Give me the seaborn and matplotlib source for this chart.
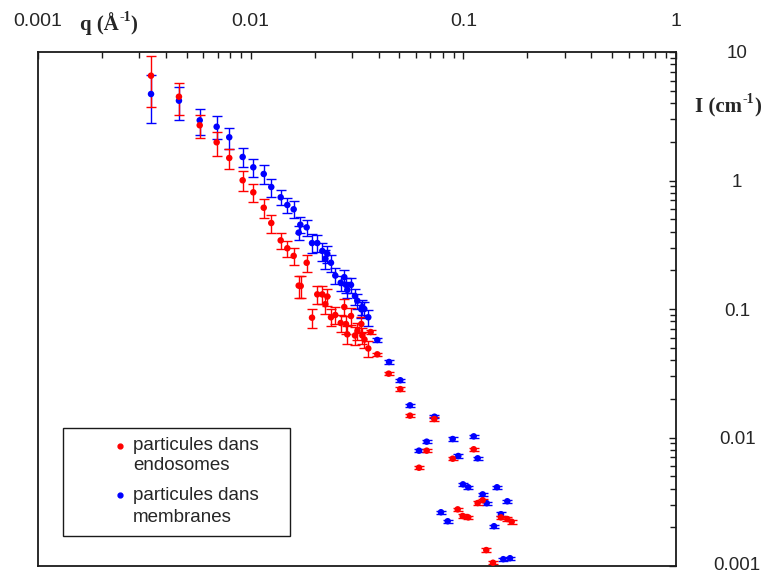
import numpy as np
import pandas as pd
import seaborn as sns
import matplotlib.pyplot as plt
from matplotlib.patches import Rectangle
from matplotlib.ticker import LogLocator, NullFormatter
from matplotlib.transforms import ScaledTranslation

sns.set_theme(style="white")
plt.rcParams["font.family"] = ["Liberation Sans", "DejaVu Sans"]

# particules dans endosomes (rouge)
q_endo = [0.00340, 0.00460, 0.00576, 0.00692, 0.00793, 0.00917, 0.01029, 0.01152, 0.0125, 0.01384,
          0.01487, 0.01593, 0.01682, 0.01719, 0.01834, 0.01943, 0.02057, 0.02172, 0.02244, 0.02293,
          0.02386, 0.0250, 0.02651, 0.02756, 0.02807, 0.02847, 0.02963, 0.03094, 0.03179, 0.03313,
          0.03349, 0.03429, 0.03573, 0.03667, 0.03939, 0.04457, 0.05053, 0.05612, 0.06188, 0.06725,
          0.07301, 0.08913, 0.09408, 0.0993, 0.1055, 0.1119, 0.1168, 0.1233, 0.1282, 0.1379,
          0.1503, 0.1610, 0.1688]
i_endo = [6.54, 4.49, 2.69, 1.983, 1.497, 1.004, 0.809, 0.614, 0.467, 0.342,
          0.297, 0.259, 0.152, 0.151, 0.229, 0.0856, 0.130, 0.130, 0.109, 0.125,
          0.0862, 0.0898, 0.0778, 0.1036, 0.0764, 0.0635, 0.0882, 0.0622, 0.0674, 0.0764,
          0.0622, 0.0579, 0.0493, 0.0662, 0.0444, 0.0314, 0.0238, 0.0148, 0.00582, 0.0079,
          0.01393, 0.00684, 0.00276, 0.00245, 0.00239, 0.0081, 0.00309, 0.00325, 0.00133, 0.00106,
          0.00239, 0.00232, 0.00221]
err_endo = [2.8, 1.28, 0.56, 0.42, 0.27, 0.18, 0.125, 0.10, 0.074, 0.05,
            0.043, 0.039, 0.03, 0.03, 0.036, 0.015, 0.02, 0.02, 0.017, 0.019,
            0.013, 0.014, 0.012, 0.015, 0.012, 0.01, 0.013, 0.01, 0.01, 0.011,
            0.009, 0.008, 0.007, 0.002, 0.0013, 0.0009, 0.0007, 0.0004, 0.00017, 0.00024,
            0.0004, 0.0002, 0.00008, 0.00007, 0.00007, 0.00024, 0.00009, 0.0001, 0.00004, 0.00003,
            0.00007, 0.00007, 0.00007]

# particules dans membranes (bleu)
q_memb = [0.00340, 0.00460, 0.00576, 0.00692, 0.00793, 0.00917, 0.01029, 0.01152, 0.0125, 0.01384,
          0.01487, 0.01593, 0.01682, 0.01712, 0.01834, 0.01943, 0.02057, 0.02172, 0.02244, 0.02293,
          0.02386, 0.0250, 0.02651, 0.02756, 0.02807, 0.02847, 0.02963, 0.03094, 0.03172, 0.03313,
          0.03349, 0.03422, 0.03573, 0.03939, 0.04473, 0.05053, 0.05612, 0.06188, 0.06725, 0.07316,
          0.07852, 0.08444, 0.08913, 0.09469, 0.09963, 0.1055, 0.1119, 0.1168, 0.1233, 0.1288,
          0.1394, 0.1440, 0.1503, 0.1541, 0.1610, 0.1658]
i_memb = [4.71, 4.18, 2.94, 2.62, 2.17, 1.524, 1.267, 1.124, 0.890, 0.740,
          0.645, 0.597, 0.393, 0.453, 0.432, 0.326, 0.326, 0.283, 0.246, 0.269,
          0.229, 0.182, 0.160, 0.177, 0.154, 0.141, 0.154, 0.126, 0.116, 0.0995,
          0.1036, 0.100, 0.0862, 0.0574, 0.0387, 0.0279, 0.0178, 0.0079, 0.00928, 0.01452,
          0.00262, 0.00223, 0.00973, 0.00718, 0.00432, 0.0041, 0.01021, 0.00689, 0.00361, 0.00308,
          0.00204, 0.0041, 0.00253, 0.00113, 0.00319, 0.00115]
err_memb = [1.9, 1.2, 0.66, 0.53, 0.40, 0.26, 0.20, 0.19, 0.14, 0.10,
            0.09, 0.09, 0.05, 0.065, 0.065, 0.054, 0.05, 0.045, 0.04, 0.04,
            0.035, 0.025, 0.022, 0.024, 0.02, 0.02, 0.02, 0.018, 0.016, 0.014,
            0.014, 0.013, 0.012, 0.0017, 0.0012, 0.0008, 0.0005, 0.00024, 0.00028, 0.00044,
            0.00008, 0.00007, 0.00029, 0.00022, 0.00013, 0.00012, 0.00031, 0.00021, 0.00011, 0.00009,
            0.00006, 0.00012, 0.00008, 0.00003, 0.0001, 0.00003]

labels = ["particules dans\nendosomes", "particules dans\nmembranes"]
colors = ["#FF0000", "#0000FF"]

df = pd.concat([
    pd.DataFrame({"q": q_memb, "I": i_memb, "err": err_memb, "serie": labels[1]}),
    pd.DataFrame({"q": q_endo, "I": i_endo, "err": err_endo, "serie": labels[0]}),
], ignore_index=True)

W, H = 771, 574
fig = plt.figure(figsize=(W/100, H/100), dpi=100, facecolor="w")
ax = fig.add_axes([38/W, 8/H, 638/W, 514/H])

for lab, col in zip([labels[1], labels[0]], [colors[1], colors[0]]):
    d = df[df["serie"] == lab]
    ax.errorbar(d["q"], d["I"], yerr=d["err"], fmt="none", ecolor=col,
                elinewidth=1.0, capsize=3.6, capthick=1.0, zorder=2)

sns.scatterplot(data=df, x="q", y="I", hue="serie",
                palette={labels[0]: colors[0], labels[1]: colors[1]},
                s=22, linewidth=0, legend=False, ax=ax, zorder=3)

ax.set_xscale("log")
ax.set_yscale("log")
ax.set_xlim(0.001, 1)
ax.set_ylim(0.001, 10)
ax.set_xlabel("")
ax.set_ylabel("")

ax.set_xticks([0.001, 0.01, 0.1, 1], labels=["0.001", "0.01", "0.1", "1"])
ax.set_yticks([0.001, 0.01, 0.1, 1, 10], labels=["0.001", "0.01", "0.1", "1", "10"], ha="center")
ax.xaxis.set_minor_locator(LogLocator(base=10, subs=np.arange(2, 10)))
ax.yaxis.set_minor_locator(LogLocator(base=10, subs=np.arange(2, 10)))
ax.xaxis.set_minor_formatter(NullFormatter())
ax.yaxis.set_minor_formatter(NullFormatter())

ax.tick_params(axis="x", which="both", direction="in", top=True, bottom=False,
               labeltop=True, labelbottom=False, color="k", width=1)
ax.tick_params(axis="y", which="both", direction="in", right=True, left=False,
               labelright=True, labelleft=False, color="k", width=1)
ax.tick_params(axis="x", which="major", length=5, pad=16, labelsize=14)
ax.tick_params(axis="y", which="major", length=5, pad=44, labelsize=13.5)
ax.tick_params(which="minor", length=4)

# remonter un peu le "0.001" du bas pour qu'il reste dans l'image
lab_bas = ax.yaxis.get_major_ticks()[0].label2
lab_bas.set_transform(lab_bas.get_transform() + ScaledTranslation(0, 3/100, fig.dpi_scale_trans))

for s in ax.spines.values():
    s.set_color("k")
    s.set_linewidth(1.3)


def titre(x, y, base, sup):
    # texte gras serif avec exposant "-1" plus petit, puis parenthèse fermante
    kw = dict(family="Liberation Serif", fontweight="bold", ha="left", va="baseline")
    t1 = fig.text(x/W, 1 - y/H, base, fontsize=15, **kw)
    fig.canvas.draw()
    r = fig.canvas.get_renderer()
    x1 = t1.get_window_extent(r).x1
    t2 = fig.text(x1/W + 0.5/W, 1 - (y - 9)/H, sup, fontsize=10, **kw)
    x2 = t2.get_window_extent(r).x1
    fig.text(x2/W, 1 - y/H, ")", fontsize=15, **kw)


titre(80, 30, "q (Å", "-1")
titre(695, 112, "I (cm", "-1")

# légende encadrée
ax.add_patch(Rectangle((0.0392, 0.0584), 0.3558, 0.2101, transform=ax.transAxes,
                       fill=False, edgecolor="k", linewidth=1.0, zorder=5))
leg_y = [(0.2335, 0.1946), (0.1381, 0.0953)]
for lab, col, (y1, y2) in zip(labels, colors, leg_y):
    ax.plot([0.1285], [y1], "o", color=col, markersize=3.5, transform=ax.transAxes, zorder=6)
    l1, l2 = lab.split("\n")
    ax.text(0.1489, y1, l1, transform=ax.transAxes, fontsize=13.5, ha="left", va="center", zorder=6)
    ax.text(0.1489, y2, l2, transform=ax.transAxes, fontsize=13.5, ha="left", va="center", zorder=6)

fig.savefig("out.png", dpi=100, facecolor="w")
